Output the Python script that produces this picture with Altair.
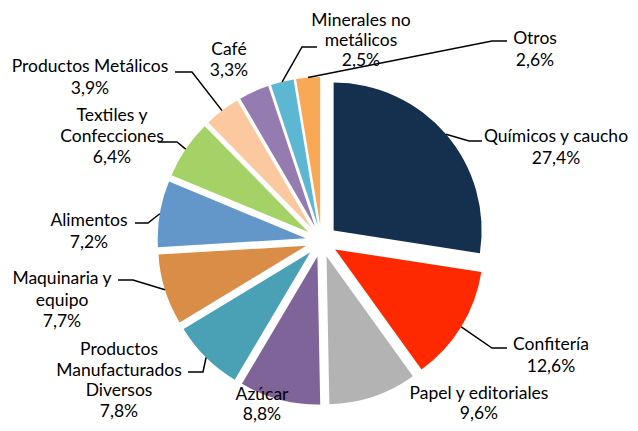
import math
import altair as alt
import pandas as pd

# ---------------- data ----------------
categories = [
    "Químicos y caucho", "Confitería", "Papel y editoriales", "Azúcar",
    "Productos Manufacturados Diversos", "Maquinaria y equipo", "Alimentos",
    "Textiles y Confecciones", "Productos Metálicos", "Café",
    "Minerales no metálicos", "Otros",
]
shares = [27.4, 12.6, 9.6, 8.8, 7.8, 7.7, 7.2, 6.4, 3.9, 3.3, 2.5, 2.6]
share_text = ["27,4%", "12,6%", "9,6%", "8,8%", "7,8%", "7,7%", "7,2%",
              "6,4%", "3,9%", "3,3%", "2,5%", "2,6%"]
label_lines = [
    ["Químicos y caucho"], ["Confitería"], ["Papel y editoriales"], ["Azúcar"],
    ["Productos", "Manufacturados", "Diversos"], ["Maquinaria y", "equipo"],
    ["Alimentos"], ["Textiles y", "Confecciones"], ["Productos Metálicos"],
    ["Café"], ["Minerales no", "metálicos"], ["Otros"],
]
colors = ["#15304e", "#ff2900", "#b3b3b3", "#7e6499", "#4aa0b5", "#d98d46",
          "#6396c9", "#a4d266", "#fbc8a0", "#947cb1", "#5cb8d2", "#f9a856"]

# ---------------- layout (page pixels) ----------------
MARGIN = 8
W, H = 638 - 2 * MARGIN, 431 - 2 * MARGIN
CX, CY = 321.5 - MARGIN, 241.0 - MARGIN
R = 148
EXPLODE = 16
FONT = "Lato"
FS = 17.5
TEXT_DY = 2

# (center x, first line y, line height)
label_pos = [(556, 135, 22), (551, 343, 22), (479, 392, 19.5), (262, 393, 19.5),
             (119, 348, 20.5), (62, 277, 21.5), (89, 219, 21.5),
             (112, 114, 21), (90, 65, 22), (229, 48, 21),
             (361, 19, 20), (535, 37, 21.5)]
leaders = {
    0: [(469, 141), (482, 141)],
    1: [(492, 348), (507, 348)],
    4: [(203, 372), (188, 372)],
    5: [(133, 280), (118, 280)],
    6: [(148, 223), (135, 223)],
    7: [(177, 142), (158, 142)],
    8: [(192, 72), (175, 72)],
    10: [(302, 47), (317, 47)],
    11: [(492, 41), (507, 41)],
}

# ---------------- derived tables ----------------
total = sum(shares)
rows = []
cum = 0.0
for cat, s in zip(categories, shares):
    start, end = cum, cum + s
    cum = end
    mid = (start + end) / 2 / total * 2 * math.pi
    rows.append({
        "cat": cat, "share": s, "start": start, "end": end,
        "cx": CX + EXPLODE * math.sin(mid),
        "cy": CY - EXPLODE * math.cos(mid),
        "mid": mid,
    })
pie = pd.DataFrame(rows)

text_rows = []
for i, (lines, pct) in enumerate(zip(label_lines, share_text)):
    x0, y0, lh = label_pos[i]
    for j, t in enumerate(lines + [pct]):
        text_rows.append({"cat": categories[i], "t": t,
                          "x": x0 - MARGIN,
                          "y": y0 - MARGIN + TEXT_DY + j * lh})
texts = pd.DataFrame(text_rows)

line_rows = []
for i, pts in leaders.items():
    mid = pie.loc[i, "mid"]
    sx = CX + (EXPLODE + R) * math.sin(mid)
    sy = CY - (EXPLODE + R) * math.cos(mid)
    line_rows.append({"cat": categories[i], "o": 0, "x": sx, "y": sy})
    for k, (px, py) in enumerate(pts):
        line_rows.append({"cat": categories[i], "o": k + 1,
                          "x": px - MARGIN, "y": py - MARGIN})
lines_df = pd.DataFrame(line_rows)

xs = alt.Scale(domain=[0, W], range=[0, W], nice=False, zero=False)
ys = alt.Scale(domain=[0, H], range=[0, H], nice=False, zero=False)

arcs = alt.Chart(pie).mark_arc(radius=R).encode(
    x=alt.X("cx:Q", scale=xs, axis=None),
    y=alt.Y("cy:Q", scale=ys, axis=None),
    theta=alt.Theta("start:Q", stack=None,
                    scale=alt.Scale(domain=[0, total], range=[0, 2 * math.pi])),
    theta2=alt.Theta2("end:Q"),
    color=alt.Color("cat:N", scale=alt.Scale(domain=categories, range=colors),
                    legend=None),
)

leader = alt.Chart(lines_df).mark_line(color="black", strokeWidth=1.5).encode(
    x=alt.X("x:Q", scale=xs, axis=None),
    y=alt.Y("y:Q", scale=ys, axis=None),
    detail="cat:N",
    order="o:Q",
)

labels = alt.Chart(texts).mark_text(
    font=FONT, fontSize=FS, color="#000000", align="center", baseline="middle"
).encode(
    x=alt.X("x:Q", scale=xs, axis=None),
    y=alt.Y("y:Q", scale=ys, axis=None),
    text="t:N",
)

chart = alt.layer(arcs, leader, labels).properties(
    width=W, height=H, padding=0, autosize=alt.AutoSizeParams(type="none"),
    background="white",
).configure_view(stroke=None)

chart.save("out.html", embed_options={"renderer": "svg", "actions": False})
